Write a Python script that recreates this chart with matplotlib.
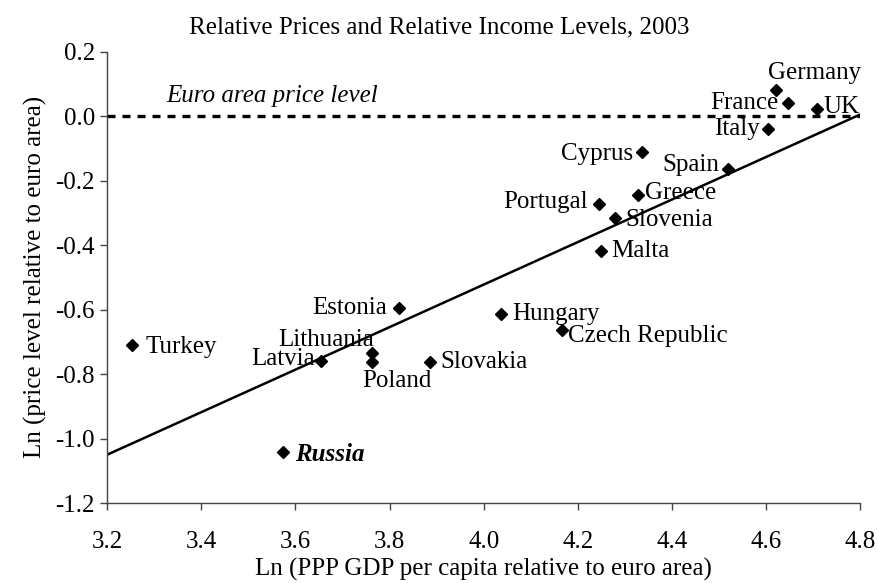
import matplotlib
matplotlib.use("Agg")
import matplotlib.pyplot as plt

plt.rcParams["font.family"] = ["Liberation Serif", "DejaVu Serif"]
plt.rcParams["axes.unicode_minus"] = False

# Ln of PPP GDP per capita and price level, both relative to the euro area
countries = ["Germany", "France", "UK", "Italy", "Cyprus", "Spain", "Greece",
             "Portugal", "Slovenia", "Malta", "Estonia", "Hungary",
             "Czech Republic", "Lithuania", "Latvia", "Poland", "Slovakia",
             "Turkey", "Russia"]
ln_income = [4.621, 4.646, 4.709, 4.604, 4.337, 4.519, 4.328,
             4.245, 4.279, 4.250, 3.821, 4.037,
             4.167, 3.763, 3.654, 3.763, 3.887,
             3.253, 3.574]
ln_price = [0.081, 0.040, 0.021, -0.041, -0.111, -0.164, -0.246,
            -0.273, -0.316, -0.419, -0.594, -0.615,
            -0.662, -0.735, -0.760, -0.763, -0.763,
            -0.711, -1.042]

# fitted cross-country line
fit_x = [3.2, 4.8]
fit_y = [-1.05, 0.005]

euro_level = 0.0

x_ticks = [3.2, 3.4, 3.6, 3.8, 4.0, 4.2, 4.4, 4.6, 4.8]
y_ticks = [0.2, 0.0, -0.2, -0.4, -0.6, -0.8, -1.0, -1.2]

# label placement: (ha, dx px, dy px)
label_pos = {
    "Germany": ("left", -8, 17),
    "France": ("right", -9, 0),
    "UK": ("left", 6, 2),
    "Italy": ("right", -8, 0),
    "Cyprus": ("right", -9, -2),
    "Spain": ("right", -9, 4),
    "Greece": ("left", 7, 2),
    "Portugal": ("right", -11, 2),
    "Slovenia": ("left", 10, -2),
    "Malta": ("left", 10, 0),
    "Estonia": ("right", -12, 0),
    "Hungary": ("left", 11, 0),
    "Czech Republic": ("left", 6, -6),
    "Lithuania": ("right", 2, 13),
    "Latvia": ("right", -6, 2),
    "Poland": ("left", -10, -19),
    "Slovakia": ("left", 10, 0),
    "Turkey": ("left", 13, -2),
    "Russia": ("left", 12, -2),
}

W, H = 879, 583
fig = plt.figure(figsize=(W / 100, H / 100), dpi=100)
ax = fig.add_axes([107.3 / W, 1 - 503 / H, (860 - 107.3) / W, (503 - 51.7) / H])

fs = 18

ax.plot([3.2, 4.8], [euro_level, euro_level], color="black", lw=2.4,
        dashes=(2.4, 2.1), solid_capstyle="butt", dash_capstyle="butt",
        zorder=2)
ax.plot(fit_x, fit_y, color="black", lw=1.8, zorder=2)
ax.plot(ln_income, ln_price, linestyle="none", marker="D", ms=6.0,
        color="black", zorder=3)

for name, x, y in zip(countries, ln_income, ln_price):
    ha, dx, dy = label_pos[name]
    kw = {}
    if name == "Russia":
        kw = dict(fontweight="bold", fontstyle="italic")
    ax.annotate(name, (x, y), xytext=(dx, dy), textcoords="offset pixels",
                ha=ha, va="center", fontsize=fs, zorder=4, **kw)

ax.text(3.326, 0.062, "Euro area price level", fontstyle="italic",
        fontsize=fs, ha="left", va="center")

ax.set_xlim(3.2, 4.8)
ax.set_ylim(-1.2, 0.2)
ax.set_xticks(x_ticks)
ax.set_xticklabels([f"{v:.1f}" for v in x_ticks])
ax.set_yticks(y_ticks)
ax.set_yticklabels([f"{v:.1f}" for v in y_ticks])

for s in ("top", "right"):
    ax.spines[s].set_visible(False)
for s in ("left", "bottom"):
    ax.spines[s].set_color("#444444")
    ax.spines[s].set_linewidth(1.0)
ax.tick_params(axis="both", direction="out", length=5, width=1.0,
               color="#444444", labelsize=fs)
ax.tick_params(axis="x", pad=15)
ax.tick_params(axis="y", pad=4)

ax.set_xlabel("Ln (PPP GDP per capita relative to euro area)", fontsize=fs,
              labelpad=4)
ax.set_ylabel("Ln (price level relative to euro area)", fontsize=fs,
              labelpad=6)

fig.text(0.5, 1 - 27 / H, "Relative Prices and Relative Income Levels, 2003",
         ha="center", va="center", fontsize=fs)

fig.savefig("out.png", dpi=100)
